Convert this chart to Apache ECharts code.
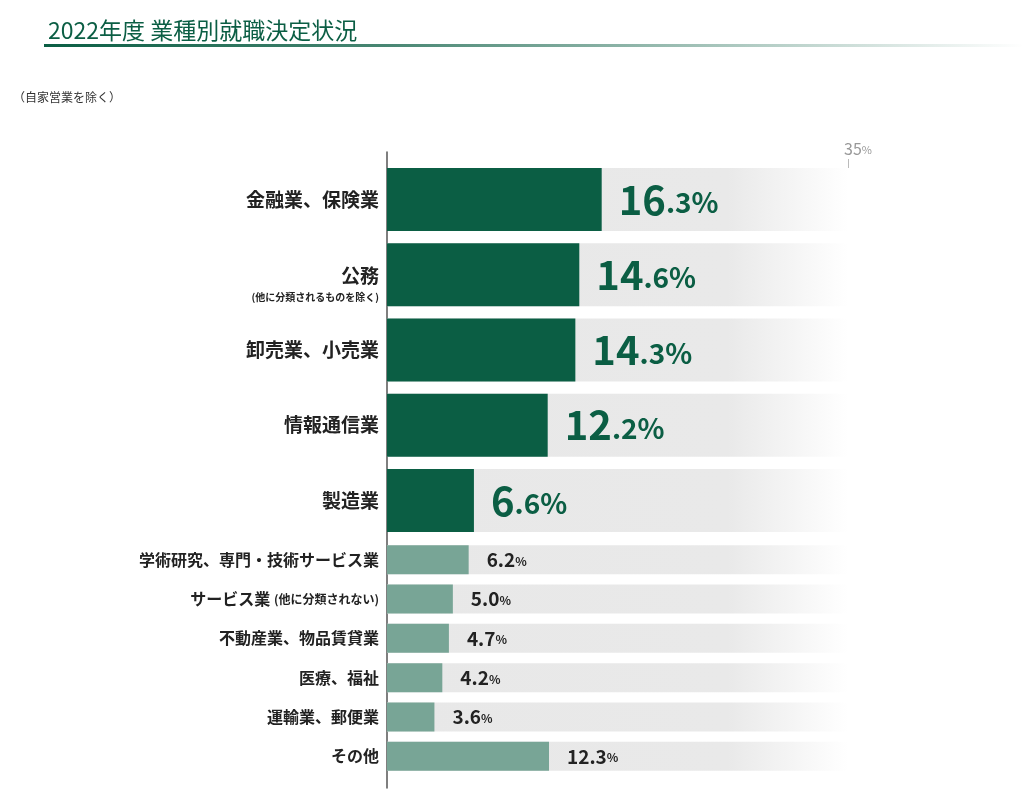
<!DOCTYPE html>
<html>
<head>
<meta charset="utf-8">
<script src="https://cdn.jsdelivr.net/npm/echarts@6/dist/echarts.min.js"></script>
<style>
  html, body { margin: 0; padding: 0; background: #fff; }
  #chart { width: 1024px; height: 793px; }
</style>
</head>
<body>
<div id="chart"></div>
<script>
// ---- data ----
const titleText = '2022年度 業種別就職決定状況';
const noteText = '（自家営業を除く）';
const topCategories = ['金融業、保険業', '公務', '卸売業、小売業', '情報通信業', '製造業'];
const topValues = [16.3, 14.6, 14.3, 12.2, 6.6];
const bottomCategories = ['学術研究、専門・技術サービス業', 'サービス業', '不動産業、物品賃貸業', '医療、福祉', '運輸業、郵便業', 'その他'];
const bottomValues = [6.2, 5.0, 4.7, 4.2, 3.6, 12.3];
const categoryNotes = { '公務': '(他に分類されるものを除く)', 'サービス業': '(他に分類されない)' };
const axisMax = 35;
const axisTickValues = [35];

const JP = '"Noto Sans CJK JP", "Noto Sans", sans-serif';
const DARK = '#0b5e44';
const LIGHT = '#78a596';

const chart = echarts.init(document.getElementById('chart'), null, { renderer: 'canvas' });

const bgGradient = new echarts.graphic.LinearGradient(0, 0, 1, 0, [
  { offset: 0, color: '#e8e8e8' },
  { offset: 0.74, color: '#e9e9e9' },
  { offset: 1, color: 'rgba(255,255,255,1)' }
]);

function splitNum(v) {
  const s = v.toFixed(1).split('.');
  return { i: s[0], d: s[1] };
}

const option = {
  animation: false,
  backgroundColor: '#fff',
  title: [
    {
      text: titleText,
      left: 43, top: 14,
      textStyle: { fontFamily: JP, fontSize: 23, fontWeight: 'normal', color: DARK }
    },
    {
      text: noteText,
      left: 8, top: 86,
      textStyle: { fontFamily: JP, fontSize: 12, fontWeight: 'normal', color: '#333' }
    }
  ],
  graphic: [
    {
      type: 'rect',
      shape: { x: 44, y: 44, width: 980, height: 3 },
      style: {
        fill: new echarts.graphic.LinearGradient(0, 0, 1, 0, [
          { offset: 0, color: DARK },
          { offset: 0.35, color: 'rgba(11,94,68,0.75)' },
          { offset: 1, color: 'rgba(11,94,68,0)' }
        ])
      },
      silent: true
    }
  ],
  grid: [
    { left: 387, width: 461, top: 162, height: 376 },
    { left: 387, width: 461, top: 540, height: 236 },
    { left: 387, width: 461, top: 152, height: 636 },
    { left: 387, width: 461, top: 158, height: 10 }
  ],
  xAxis: [
    { gridIndex: 0, type: 'value', min: 0, max: axisMax, show: false },
    { gridIndex: 1, type: 'value', min: 0, max: axisMax, show: false },
    { gridIndex: 2, type: 'value', min: 0, max: axisMax, show: false },
    {
      gridIndex: 3, type: 'value', min: 0, max: axisMax, interval: axisMax,
      position: 'top',
      axisLine: { show: false },
      splitLine: { show: false },
      axisTick: { show: true, length: 9, customValues: axisTickValues, lineStyle: { color: '#bbb', width: 1 } },
      axisLabel: {
        show: true, margin: 1, customValues: axisTickValues,
        formatter: v => '{a|' + v + '}{b|%}',
        rich: {
          a: { fontFamily: JP, fontSize: 16, color: '#999', padding: [0, 0, 0, 20] },
          b: { fontFamily: JP, fontSize: 11, color: '#999', padding: [2, 0, 0, 0] }
        }
      }
    }
  ],
  yAxis: [
    {
      gridIndex: 0, type: 'category', inverse: true, data: topCategories,
      axisLine: { show: false }, axisTick: { show: false },
      axisLabel: {
        margin: 8,
        formatter: v => categoryNotes[v]
          ? '{sp| }\n{m|' + v + '}\n{s|' + categoryNotes[v] + '}'
          : '{m|' + v + '}',
        rich: {
          sp: { fontSize: 10, lineHeight: 20 },
          m: { fontFamily: JP, fontSize: 19, fontWeight: 'bold', color: '#222', lineHeight: 24 },
          s: { fontFamily: JP, fontSize: 10, fontWeight: 'bold', color: '#222', lineHeight: 18 }
        }
      }
    },
    {
      gridIndex: 1, type: 'category', inverse: true, data: bottomCategories,
      axisLine: { show: false }, axisTick: { show: false },
      axisLabel: {
        margin: 8,
        formatter: v => categoryNotes[v]
          ? '{m|' + v + ' }{s|' + categoryNotes[v] + '}'
          : '{m|' + v + '}',
        rich: {
          m: { fontFamily: JP, fontSize: 16, fontWeight: 'bold', color: '#222' },
          s: { fontFamily: JP, fontSize: 12, fontWeight: 'bold', color: '#222' }
        }
      }
    },
    {
      gridIndex: 2, type: 'value', min: 0, max: 1,
      axisLine: { show: true, lineStyle: { color: '#555', width: 1.5 } },
      axisTick: { show: false }, axisLabel: { show: false }, splitLine: { show: false }
    },
    {
      gridIndex: 3, type: 'value', min: 0, max: 1, show: false
    }
  ],
  series: [
    {
      type: 'bar', xAxisIndex: 0, yAxisIndex: 0, data: topValues,
      barWidth: 63,
      itemStyle: { color: DARK },
      showBackground: true,
      backgroundStyle: { color: bgGradient },
      label: {
        show: true, position: 'right', distance: 17,
        formatter: p => { const n = splitNum(p.value); return '{a|' + n.i + '}{b|.' + n.d + '%}'; },
        rich: {
          a: { fontFamily: JP, fontSize: 40, fontWeight: 'bold', color: DARK },
          b: { fontFamily: JP, fontSize: 28, fontWeight: 'bold', color: DARK, padding: [6, 0, 0, 0] }
        }
      }
    },
    {
      type: 'bar', xAxisIndex: 1, yAxisIndex: 1, data: bottomValues,
      barWidth: 29,
      itemStyle: { color: LIGHT },
      showBackground: true,
      backgroundStyle: { color: bgGradient },
      label: {
        show: true, position: 'right', distance: 18,
        formatter: p => '{a|' + p.value.toFixed(1) + '}{b|%}',
        rich: {
          a: { fontFamily: JP, fontSize: 19, fontWeight: 'bold', color: '#222' },
          b: { fontFamily: JP, fontSize: 12, fontWeight: 'bold', color: '#222', padding: [3, 0, 0, 0] }
        }
      }
    }
  ]
};

chart.setOption(option);
</script>
</body>
</html>
